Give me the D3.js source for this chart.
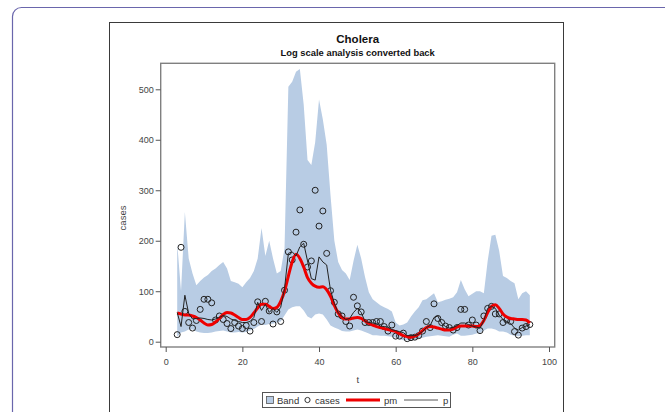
<!DOCTYPE html>
<html><head><meta charset="utf-8">
<script src="https://cdn.jsdelivr.net/npm/d3@7"></script>
<style>
html,body{margin:0;padding:0;background:#fff;overflow:hidden}
svg{display:block}
text{font-family:"Liberation Sans",Arial,sans-serif}
</style></head>
<body>
<script>
const tValues = d3.range(3, 96);
const cases = [14,187,60,38,27,42,64,84,84,77,43,51,44,36,26,38,31,26,32,21,38,79,40,80,61,35,59,40,102,178,162,217,261,193,148,160,300,229,259,175,101,78,55,51,40,31,88,71,59,38,38,38,40,40,30,21,33,11,11,17,6,8,9,12,21,40,28,75,46,38,31,28,23,28,64,64,33,43,33,22,51,66,70,55,55,38,43,40,20,13,27,30,34];
const pm = [57,55,53,53,51,48,43,37,33,34,39,46,54,58,57,53,48,44,44,48,57,67,74,74,70,66,68,80,100,130,158,173,165,148,127,116,110,108,109,103,90,72,57,48,45,45,47,48,46,41,36,33,30,28,26,24,22,20,16,12,10,9,11,15,22,28,30,29,27,25,23,23,25,29,31,31,31,31,30,32,42,58,70,73,66,55,49,46,45,44,44,43,37];
const p = [58,30,92,56,45,46,47,46,44,43,45,48,52,50,45,42,40,38,38,40,48,78,62,74,58,66,58,68,105,175,178,170,188,195,160,125,122,168,158,152,102,76,57,50,44,46,58,66,58,40,38,37,36,31,30,29,24,22,20,18,12,12,12,15,20,28,32,48,51,36,30,27,28,32,37,37,34,31,29,27,42,66,70,66,53,44,40,36,27,23,28,31,34];
const bandUpper = [195,100,257,165,135,112,120,127,132,140,145,152,158,145,120,118,115,108,118,126,140,165,225,170,200,165,135,140,185,505,515,535,540,470,360,350,395,480,440,390,290,200,158,142,135,122,160,192,165,128,98,84,78,72,68,65,60,38,32,34,38,50,60,68,82,84,90,96,78,80,83,85,88,98,122,104,90,95,100,100,96,160,210,212,180,130,126,120,116,84,96,100,92];
const bandLower = [10,18,20,24,24,20,18,17,17,18,20,21,22,20,18,18,19,18,19,22,25,30,34,33,35,36,38,40,52,64,68,70,70,62,50,46,54,56,54,44,32,28,25,21,20,20,22,24,22,19,16,13,13,12,12,11,10,8,5,3,3,3,4,6,8,10,11,12,13,12,11,10,14,16,12,12,13,14,16,17,22,26,26,24,20,20,18,14,12,11,12,13,13];
const xTicks = [0,20,40,60,80,100];
const yTicks = [0,100,200,300,400,500];
const legendItems = ["Band","cases","pm","p"];

const data = tValues.map((t,i)=>({t, cases:cases[i], pm:pm[i], p:p[i], hi:bandUpper[i], lo:bandLower[i]}));

const W=665,H=412;
const svg=d3.select("body").append("svg").attr("width",W).attr("height",H);

// outer purple rounded border
svg.append("rect").attr("x",12.5).attr("y",7.5).attr("width",700).attr("height",450)
  .attr("rx",9).attr("fill","none").attr("stroke","#6a66ac").attr("stroke-width",1.2);
// graph frame
svg.append("rect").attr("x",109.5).attr("y",22.5).attr("width",454).attr("height",420)
  .attr("fill","#fff").attr("stroke","#3a3a3a").attr("stroke-width",1);

const box={l:160.7,r:554.7,t:63.3,b:347};
const x=d3.scaleLinear().domain([0,100]).range([165.7,549]);
const y=d3.scaleLinear().domain([0,500]).range([341.7,89.3]);

svg.append("defs").append("clipPath").attr("id","clip").append("rect")
  .attr("x",box.l).attr("y",box.t).attr("width",box.r-box.l).attr("height",box.b-box.t);
const g=svg.append("g").attr("clip-path","url(#clip)");

const bandColor="#b8cce4";
g.append("path").datum(data)
  .attr("d",d3.area().x(d=>x(d.t)).y0(d=>y(d.lo)).y1(d=>y(d.hi)))
  .attr("fill",bandColor);

g.append("g").selectAll("circle").data(data).join("circle")
  .attr("cx",d=>x(d.t)).attr("cy",d=>y(d.cases)).attr("r",3)
  .attr("fill","none").attr("stroke","#222").attr("stroke-width",1);

g.append("path").datum(data)
  .attr("d",d3.line().x(d=>x(d.t)).y(d=>y(d.pm)).curve(d3.curveMonotoneX))
  .attr("fill","none").attr("stroke","#ee0000").attr("stroke-width",3);

g.append("path").datum(data)
  .attr("d",d3.line().x(d=>x(d.t)).y(d=>y(d.p)))
  .attr("fill","none").attr("stroke","#222").attr("stroke-width",1);

// plot box
svg.append("rect").attr("x",box.l).attr("y",box.t).attr("width",box.r-box.l).attr("height",box.b-box.t)
  .attr("fill","none").attr("stroke","#808080").attr("stroke-width",1.4);

// axes
const axisColor="#555";
const ya=svg.append("g").attr("transform",`translate(${box.l},0)`)
  .call(d3.axisLeft(y).tickValues(yTicks).tickSize(5).tickPadding(2));
const xa=svg.append("g").attr("transform",`translate(0,${box.b})`)
  .call(d3.axisBottom(x).tickValues(xTicks).tickSize(5).tickPadding(7));
[ya,xa].forEach(a=>{
  a.select(".domain").remove();
  a.selectAll("line").attr("stroke",axisColor);
  a.selectAll("text").attr("fill","#444").style("font-size","9px")
   .style("font-family",'"Liberation Sans",Arial,sans-serif');
});

const cx=(box.l+box.r)/2;
svg.append("text").attr("x",cx).attr("y",43).attr("text-anchor","middle")
  .style("font-size","11.5px").style("font-weight","bold").attr("fill","#111").text("Cholera");
svg.append("text").attr("x",cx).attr("y",56).attr("text-anchor","middle")
  .style("font-size","9.4px").style("font-weight","bold").attr("fill","#111").text("Log scale analysis converted back");
svg.append("text").attr("x",cx).attr("y",383).attr("text-anchor","middle")
  .style("font-size","9.5px").attr("fill","#444").text("t");
svg.append("text").attr("transform","translate(126,218) rotate(-90)").attr("text-anchor","middle")
  .style("font-size","9.5px").attr("fill","#444").text("cases");

// legend
const lg=svg.append("g");
lg.append("rect").attr("x",262.5).attr("y",392.5).attr("width",188).attr("height",15)
  .attr("fill","#fff").attr("stroke","#555").attr("stroke-width",1);
const ly=400;
lg.append("rect").attr("x",266.5).attr("y",396.5).attr("width",7).attr("height",7)
  .attr("fill",bandColor).attr("stroke","#555").attr("stroke-width",0.8);
lg.append("text").attr("x",277).attr("y",ly+3.5).style("font-size","9.5px").attr("fill","#333").text(legendItems[0]);
lg.append("circle").attr("cx",307.5).attr("cy",ly).attr("r",2.6).attr("fill","none").attr("stroke","#333");
lg.append("text").attr("x",315).attr("y",ly+3.5).style("font-size","9.5px").attr("fill","#333").text(legendItems[1]);
lg.append("line").attr("x1",346).attr("x2",380).attr("y1",ly).attr("y2",ly).attr("stroke","#ee0000").attr("stroke-width",3);
lg.append("text").attr("x",384).attr("y",ly+3.5).style("font-size","9.5px").attr("fill","#333").text(legendItems[2]);
lg.append("line").attr("x1",404).attr("x2",438).attr("y1",ly).attr("y2",ly).attr("stroke","#555").attr("stroke-width",1);
lg.append("text").attr("x",443).attr("y",ly+3.5).style("font-size","9.5px").attr("fill","#333").text(legendItems[3]);
</script>
</body></html>
